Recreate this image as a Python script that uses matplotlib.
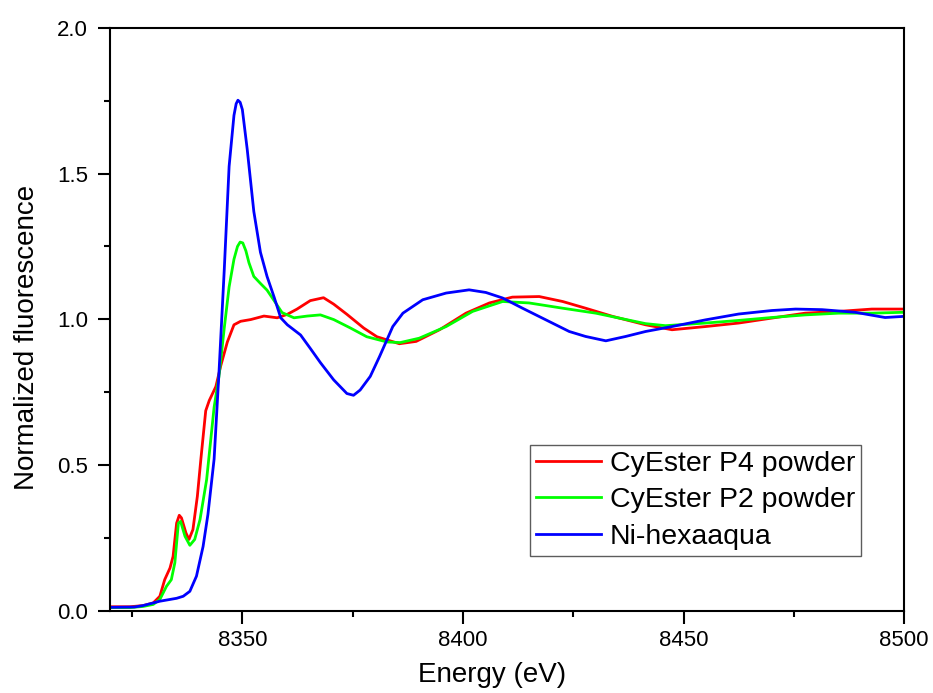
import matplotlib
matplotlib.use("Agg")
import matplotlib.pyplot as plt
from matplotlib.ticker import MultipleLocator, FormatStrFormatter

plt.rcParams['font.family'] = ['Liberation Sans', 'DejaVu Sans']

# ---- data ----
red_x = [8320, 8324.5, 8327.5, 8329.8, 8331.3, 8332.4, 8333.6, 8334.3, 8335.1, 8335.7,
         8336.2, 8337.2, 8337.9, 8338.8, 8339.8, 8340.6, 8341.7, 8342.5, 8344.0, 8345.1,
         8346.6, 8348.1, 8349.6, 8351.9, 8354.9, 8357.9, 8360.2, 8362.4, 8365.4, 8368.4,
         8370.7, 8373.7, 8377.5, 8380.5, 8385.6, 8389.4, 8394.7, 8400.7, 8406.0, 8411.2,
         8417.3, 8422.6, 8427.8, 8433.9, 8441.4, 8447.4, 8455.0, 8462.5, 8470.0, 8477.6,
         8485.2, 8492.7, 8500]
red_y = [0.013, 0.013, 0.017, 0.026, 0.049, 0.106, 0.146, 0.186, 0.300, 0.327,
         0.318, 0.267, 0.244, 0.278, 0.392, 0.520, 0.686, 0.721, 0.769, 0.840,
         0.922, 0.981, 0.993, 0.999, 1.011, 1.005, 1.017, 1.035, 1.064, 1.074,
         1.052, 1.017, 0.970, 0.940, 0.916, 0.924, 0.964, 1.021, 1.056, 1.076,
         1.078, 1.061, 1.038, 1.010, 0.981, 0.964, 0.975, 0.987, 1.004, 1.021,
         1.027, 1.035, 1.035]

green_x = [8320, 8324.5, 8327.5, 8329.8, 8331.3, 8332.8, 8333.9, 8334.7, 8335.5, 8336.0,
           8337.0, 8338.1, 8339.2, 8340.4, 8341.9, 8343.6, 8344.7, 8345.9, 8347.0, 8348.1,
           8348.9, 8349.5, 8350.1, 8350.8, 8351.5, 8352.6, 8354.1, 8355.6, 8357.2, 8359.0,
           8361.7, 8364.7, 8367.7, 8370.7, 8374.5, 8378.2, 8382.8, 8385.8, 8390.1, 8396.2,
           8402.2, 8409.0, 8415.0, 8422.6, 8430.1, 8441.4, 8445.9, 8455.0, 8462.5, 8470.0,
           8477.6, 8485.2, 8492.7, 8500]
green_y = [0.010, 0.010, 0.014, 0.021, 0.038, 0.083, 0.106, 0.164, 0.300, 0.306,
           0.255, 0.224, 0.244, 0.312, 0.449, 0.698, 0.804, 0.970, 1.111, 1.206,
           1.250, 1.265, 1.262, 1.235, 1.194, 1.147, 1.123, 1.100, 1.064, 1.023,
           1.005, 1.011, 1.015, 0.999, 0.970, 0.940, 0.922, 0.920, 0.935, 0.975,
           1.027, 1.061, 1.056, 1.038, 1.021, 0.985, 0.978, 0.987, 0.996, 1.006,
           1.015, 1.021, 1.021, 1.024]

blue_x = [8320, 8325.5, 8327.5, 8331.3, 8335.1, 8336.6, 8338.1, 8339.6, 8341.1, 8342.2,
          8343.6, 8344.7, 8345.9, 8347.0, 8348.1, 8348.6, 8349.0, 8349.5, 8350.0, 8351.1,
          8352.6, 8354.1, 8355.6, 8357.2, 8358.7, 8360.2, 8363.2, 8365.4, 8367.7, 8370.7,
          8373.7, 8375.2, 8376.7, 8379.0, 8381.1, 8384.1, 8386.4, 8390.9, 8396.2, 8401.4,
          8405.2, 8409.0, 8413.5, 8418.8, 8424.1, 8427.8, 8432.4, 8436.9, 8441.4, 8447.4,
          8455.0, 8462.5, 8470.0, 8475.4, 8481.4, 8488.9, 8495.7, 8500]
blue_y = [0.011, 0.012, 0.017, 0.032, 0.042, 0.049, 0.066, 0.118, 0.220, 0.330,
          0.520, 0.816, 1.170, 1.525, 1.700, 1.740, 1.752, 1.745, 1.720, 1.584,
          1.370, 1.230, 1.147, 1.076, 1.005, 0.981, 0.946, 0.900, 0.851, 0.792,
          0.745, 0.739, 0.757, 0.804, 0.872, 0.975, 1.021, 1.067, 1.090, 1.101,
          1.092, 1.073, 1.038, 0.998, 0.958, 0.941, 0.926, 0.941, 0.958, 0.975,
          0.998, 1.018, 1.030, 1.035, 1.033, 1.024, 1.006, 1.010]

labels = ["CyEster P4 powder", "CyEster P2 powder", "Ni-hexaaqua"]
colors = ["#FF0000", "#00FF00", "#0000FF"]

fig = plt.figure(figsize=(9.33, 6.93), dpi=100)
ax = fig.add_axes([0.1179, 0.119, 0.8511, 0.8406])

for xs, ys, lab, c in zip([red_x, green_x, blue_x], [red_y, green_y, blue_y], labels, colors):
    ax.plot(xs, ys, color=c, lw=2.0, label=lab, solid_joinstyle='round')

ax.set_xlim(8320, 8500)
ax.set_ylim(0.0, 2.0)
ax.xaxis.set_major_locator(MultipleLocator(50))
ax.xaxis.set_minor_locator(MultipleLocator(25))
ax.yaxis.set_major_locator(MultipleLocator(0.5))
ax.yaxis.set_minor_locator(MultipleLocator(0.25))
ax.yaxis.set_major_formatter(FormatStrFormatter('%.1f'))

for s in ax.spines.values():
    s.set_linewidth(1.5)
ax.tick_params(which='major', direction='out', length=9, width=1.5, labelsize=16)
ax.tick_params(axis='x', which='major', pad=5)
ax.tick_params(axis='y', which='major', pad=7)
ax.tick_params(which='minor', direction='out', length=4.5, width=1.5)

ax.set_xlabel("Energy (eV)", fontsize=20)
ax.set_ylabel("Normalized fluorescence", fontsize=20)
ax.xaxis.set_label_coords(0.4817, -0.089)
ax.yaxis.set_label_coords(-0.088, 0.469)

leg = ax.legend(loc='upper left', bbox_to_anchor=(0.568, 0.358), bbox_transform=fig.transFigure,
                fontsize=20.5, frameon=True, fancybox=False, edgecolor='#333333',
                handlelength=2.3, handletextpad=0.3, labelspacing=0.38, borderpad=0.2,
                borderaxespad=0)
leg.get_frame().set_linewidth(1.0)

fig.savefig("out.png", dpi=100)
